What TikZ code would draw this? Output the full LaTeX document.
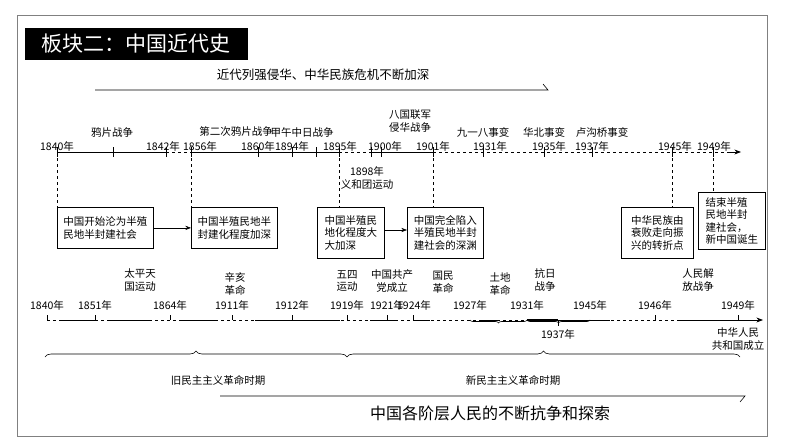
\documentclass[tikz,border=0pt]{standalone}
\usepackage{fontspec}
\setmainfont{Noto Sans CJK SC}
\usetikzlibrary{arrows.meta,decorations.pathreplacing}
\tikzset{
  yr/.style={font=\fontsize{10.5}{11}\selectfont, inner sep=0pt},
  ev/.style={font=\fontsize{10.5}{12.5}\selectfont, inner sep=0pt, align=center},
  evbox/.style={draw, thick, font=\fontsize{10.5}{12.5}\selectfont, align=left, inner sep=2pt, anchor=north west},
  tick/.style={semithick},
}
\begin{document}
\begin{tikzpicture}[x=1pt, y=-1pt, >=Stealth, semithick]
  \useasboundingbox (0,0) rectangle (794,447);
  \draw[gray] (17,15) rectangle (767,436);
  % title
  \node[fill=black, text=white, font=\fontsize{21}{23}\selectfont, minimum width=223pt, minimum height=32pt, inner sep=0pt] (title) at (136,44) {板块二：中国近代史};
  \coordinate (ta) at (95,90); \coordinate (tb) at (548,90);
  \draw (ta) -- (tb) -- ++(-5,-6);
  \node[ev, font=\fontsize{12.5}{13}\selectfont] (theme1) at (323,75) {近代列强侵华、中华民族危机不断加深};

  % upper time line
  \coordinate (u0) at (57,152); \coordinate (uend) at (741,152);
  \draw[thick] (57,152) -- (166,152);
  \draw[thick, dashed] (166,152) -- (191,152);
  \draw[thick] (191,152) -- (339,152);
  \draw[thick, dashed] (339,152) -- (371,152);
  \draw[thick] (371,152) -- (433,152);
  \draw[thick, dashed] (433,152) -- (730,152);
  \draw[thick, ->] (729,152) -- (uend);
  \foreach \x in {57,113,166,191,258,292,316,339,371,381,433,483,544,592,672,713}
    \draw[tick] (\x,147) -- (\x,157);
  \foreach \x/\t in {57/1840,163/1842,200/1856,258/1860,292/1894,340/1895,385/1900,433/1901,490/1931,549/1935,592/1937,675/1945,714/1949}
    \node[yr] at (\x,146) {\t 年};
  \node[ev] (opium) at (112,132) {鸦片战争};
  \node[ev] (opium2) at (236,132) {第二次鸦片战争};
  \node[ev] (jiawu) at (302,132) {甲午中日战争};
  \node[ev] (baguo) at (410,121) {八国联军\\侵华战争};
  \node[ev] (e918) at (483,132) {九一八事变};
  \node[ev] (huabei) at (544,132) {华北事变};
  \node[ev] (lugou) at (602,132) {卢沟桥事变};
  \node[ev] (yihe) at (367,178) {1898年\\义和团运动};

  % result boxes
  \node[evbox, minimum width=96pt, minimum height=41pt] (r1) at (57,207) {中国开始沦为半殖\\民地半封建社会};
  \node[evbox, minimum width=86pt, minimum height=41pt] (r2) at (191,207) {中国半殖民地半\\封建化程度加深};
  \node[evbox, minimum width=67pt, minimum height=51pt] (r3) at (317,207) {中国半殖民\\地化程度大\\大加深};
  \node[evbox, minimum width=76pt, minimum height=51pt] (r4) at (407,207) {中国完全陷入\\半殖民地半封\\建社会的深渊};
  \node[evbox, minimum width=72pt, minimum height=51pt] (r5) at (621,207) {中华民族由\\衰败走向振\\兴的转折点};
  \node[evbox, minimum width=67pt, minimum height=57pt] (r6) at (698,192) {结束半殖\\民地半封\\建社会，\\新中国诞生};
  \draw[dashed] (57,152) -- (r1.north west);
  \draw[dashed] (191,152) -- (r2.north west);
  \draw[dashed] (339,152) -- (339,207);
  \draw[dashed] (433,152) -- (433,207);
  \draw[dashed] (672,152) -- (672,207);
  \draw[dashed] (713,152) -- (713,192);
  \draw[->] (r1) -- (r2);
  \draw[->] (r3.east |- 0,230) -- (r4.west |- 0,230);

  % lower time line
  \coordinate (l0) at (47,320); \coordinate (lend) at (763,320);
  \draw[thick, dashed] (47,320) -- (752,320);
  \foreach \a/\b in {62/95,110/150,180/215,255/340,370/395,415/430,480/500,540/610,680/750}
    \draw[thick] (\a,320) -- (\b,320);
  \draw[thick, ->] (750,320) -- (lend);
  \draw[line width=2pt] (527,320) -- (558,320);
  \foreach \x in {47,95,170,232,292,347,387,413,655,738}
    \draw[tick] (\x,315) -- (\x,320);
  \draw[tick] (558,320) -- (558,326);
  \foreach \x/\t in {47/1840,95/1851,170/1864,232/1911,292/1912,347/1919,387/1921,414/1924,470/1927,527/1931,590/1945,655/1946,738/1949}
    \node[yr] at (\x,305) {\t 年};
  \node[yr] at (558,334) {1937年};
  \draw[decorate, decoration={brace, mirror, amplitude=3pt}] (470,320) -- (527,320);
  \draw[decorate, decoration={brace, mirror, amplitude=3pt}] (527,320) -- (590,320);
  \node[ev] (taiping) at (140,280) {太平天\\国运动};
  \node[ev] (xinhai) at (235,284) {辛亥\\革命};
  \node[ev] (wusi) at (347,281) {五四\\运动};
  \node[ev] (gcd) at (392,281) {中国共产\\党成立};
  \node[ev] (guomin) at (443,282) {国民\\革命};
  \node[ev] (tudi) at (500,284) {土地\\革命};
  \node[ev] (kangri) at (545,280) {抗日\\战争};
  \node[ev] (jiefang) at (698,280) {人民解\\放战争};
  \node[ev] (prc) at (738,339) {中华人民\\共和国成立};

  % periods
  \draw[decorate, decoration={brace, amplitude=6pt}] (45,357) -- (347,357);
  \draw[decorate, decoration={brace, amplitude=6pt}] (347,357) -- (740,357);
  \node[ev] (old) at (218,380) {旧民主主义革命时期};
  \node[ev] (new) at (513,380) {新民主主义革命时期};
  \coordinate (ba) at (220,396); \coordinate (bb) at (745,396);
  \draw (ba) -- (bb) -- ++(-5,6);
  \node[ev, font=\fontsize{16}{17}\selectfont] (theme2) at (490,413) {中国各阶层人民的不断抗争和探索};
\end{tikzpicture}
\end{document}
